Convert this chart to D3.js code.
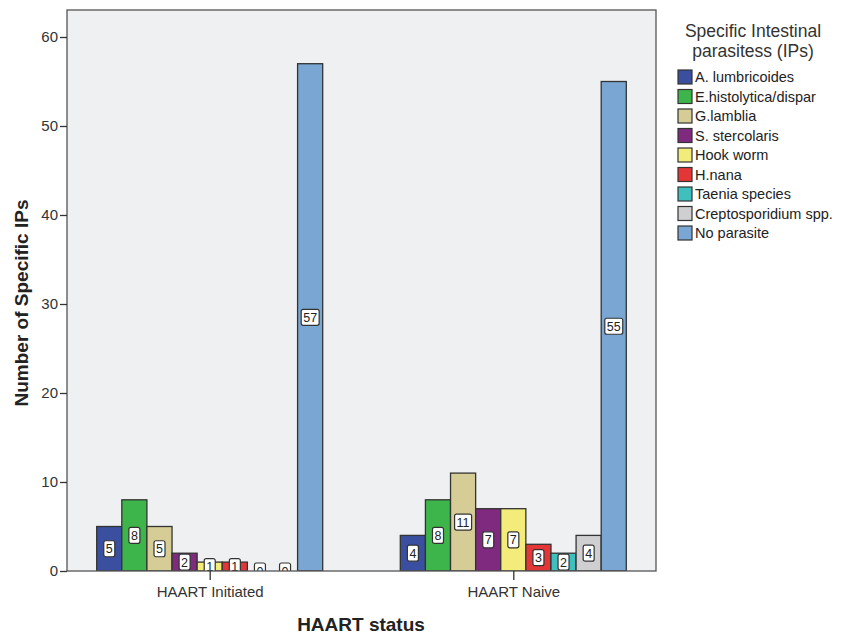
<!DOCTYPE html>
<html>
<head>
<meta charset="utf-8">
<script src="https://cdn.jsdelivr.net/npm/d3@7"></script>
<style>
  body { margin: 0; background: #fff; }
  svg { display: block; font-family: "Liberation Sans", Arial, sans-serif; }
</style>
</head>
<body>
<svg id="chart" width="845" height="635"></svg>
<script>
const categories = ["HAART Initiated", "HAART Naive"];
const series = ["A. lumbricoides", "E.histolytica/dispar", "G.lamblia", "S. stercolaris",
  "Hook worm", "H.nana", "Taenia species", "Creptosporidium spp.", "No parasite"];
const initiatedValues = [5, 8, 5, 2, 1, 1, 0, 0, 57];
const naiveValues = [4, 8, 11, 7, 7, 3, 2, 4, 55];
const seriesColors = ["#3a4f9f", "#3db54a", "#d5cd95", "#7f2a7f", "#f3ec7b", "#e43636", "#3fbfbe", "#cfcfd1", "#79a6d2"];
const yTicks = [0, 10, 20, 30, 40, 50, 60];
const legendTitle = ["Specific Intestinal", "parasitess (IPs)"];
const xTitle = "HAART status";
const yTitle = "Number of Specific IPs";

const values = [initiatedValues, naiveValues];
const data = [];
categories.forEach((c, ci) => series.forEach((s, si) => data.push({cat: c, ser: s, val: values[ci][si], si})));

const svg = d3.select("#chart");
const plot = {left: 67, top: 10, right: 656, bottom: 571};

const x = d3.scalePoint().domain(categories).range([plot.left, plot.right]).padding(0.47);
const xIn = d3.scaleBand().domain(series).range([-113, 113]).padding(0);
const y = d3.scaleLinear().domain([0, 60]).range([571, 37]);
const color = d3.scaleOrdinal().domain(series).range(seriesColors);

// background
svg.append("rect").attr("x", plot.left).attr("y", plot.top)
  .attr("width", plot.right - plot.left).attr("height", plot.bottom - plot.top)
  .attr("fill", "#eff0f2");

svg.append("clipPath").attr("id", "clip").append("rect")
  .attr("x", plot.left).attr("y", plot.top)
  .attr("width", plot.right - plot.left).attr("height", plot.bottom - plot.top);

const g = svg.append("g").attr("clip-path", "url(#clip)");

// bars
g.selectAll("rect.bar").data(data).join("rect").attr("class", "bar")
  .attr("x", d => x(d.cat) + xIn(d.ser))
  .attr("y", d => y(d.val))
  .attr("width", xIn.bandwidth())
  .attr("height", d => y(0) - y(d.val))
  .attr("fill", d => color(d.ser))
  .attr("stroke", "#333")
  .attr("stroke-width", 1.3);

// labels
const lab = g.selectAll("g.lab").data(data).join("g").attr("class", "lab")
  .attr("transform", d => `translate(${x(d.cat) + xIn(d.ser) + xIn.bandwidth() / 2},${(y(0) + y(d.val)) / 2})`);
lab.append("text")
  .attr("text-anchor", "middle").attr("dy", "0.36em")
  .attr("font-size", 12.5).attr("fill", "#222")
  .text(d => d.val);
lab.each(function() {
  const t = d3.select(this).select("text");
  const bb = t.node().getBBox();
  d3.select(this).insert("rect", "text")
    .attr("x", bb.x - 2).attr("y", -8).attr("width", bb.width + 4).attr("height", 16)
    .attr("rx", 2).attr("fill", "#fff").attr("stroke", "#333").attr("stroke-width", 1.2);
});

// frame
svg.append("rect").attr("x", plot.left).attr("y", plot.top)
  .attr("width", plot.right - plot.left).attr("height", plot.bottom - plot.top)
  .attr("fill", "none").attr("stroke", "#555").attr("stroke-width", 1.3);

// y axis
const yAxis = svg.append("g").attr("transform", `translate(${plot.left},0)`)
  .call(d3.axisLeft(y).tickValues(yTicks).tickSize(7).tickPadding(2).tickFormat(d3.format("d")));
yAxis.select(".domain").remove();
yAxis.selectAll("line").attr("stroke", "#333").attr("stroke-width", 1.3);
yAxis.selectAll("text").attr("font-size", 15).attr("fill", "#333")
  .attr("font-family", "Liberation Sans, Arial, sans-serif");

// x axis
const xAxis = svg.append("g").attr("transform", `translate(0,${plot.bottom})`)
  .call(d3.axisBottom(x).tickSize(9).tickPadding(6));
xAxis.select(".domain").remove();
xAxis.selectAll("line").attr("stroke", "#333").attr("stroke-width", 1.3);
xAxis.selectAll("text").attr("font-size", 15).attr("fill", "#333")
  .attr("font-family", "Liberation Sans, Arial, sans-serif");

// axis titles
svg.append("text").attr("x", 361).attr("y", 631).attr("text-anchor", "middle")
  .attr("font-size", 19).attr("font-weight", "bold").attr("fill", "#222").text(xTitle);
svg.append("text").attr("transform", "translate(28,303) rotate(-90)").attr("text-anchor", "middle")
  .attr("font-size", 19).attr("font-weight", "bold").attr("fill", "#222").text(yTitle);

// legend
const leg = svg.append("g");
leg.selectAll("text.title").data(legendTitle).join("text").attr("class", "title")
  .attr("x", 753).attr("y", (d, i) => 37 + i * 20).attr("text-anchor", "middle")
  .attr("font-size", 17.5).attr("fill", "#333").text(d => d);
const items = leg.selectAll("g.item").data(series).join("g").attr("class", "item")
  .attr("transform", (d, i) => `translate(678,${77 + i * 19.5})`);
items.append("rect").attr("x", 0).attr("y", -7).attr("width", 14).attr("height", 14)
  .attr("fill", d => color(d)).attr("stroke", "#333").attr("stroke-width", 1.2);
items.append("text").attr("x", 17).attr("dy", "0.36em").attr("font-size", 14.5)
  .attr("fill", "#222").text(d => d);
</script>
</body>
</html>
